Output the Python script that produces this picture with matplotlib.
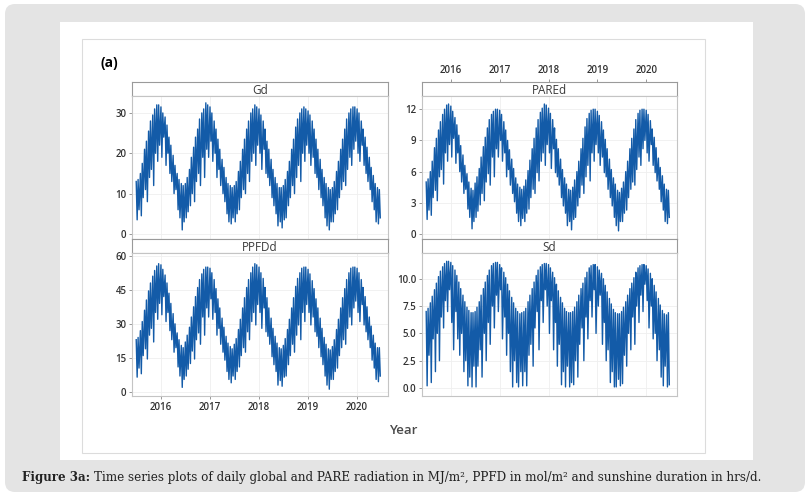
import matplotlib.pyplot as plt
import matplotlib.transforms as mtrans
import numpy as np
import pandas as pd
from matplotlib.patches import FancyBboxPatch, Rectangle

# semi-monthly readings, Jul 2015 .. Jun 2020 (upper edge, lower spike)
gd_hi = [13, 13.5, 15, 17.5, 21, 23, 25.5, 28, 29.5, 31, 32, 32, 31.5, 30, 29, 27, 24, 22, 19.5, 17, 15, 13.5, 12.5, 12,
         12.5, 14, 16, 19, 21.5, 24, 26, 28.5, 30, 31, 32.5, 32, 31.5, 30, 28, 26, 23.5, 21, 18.5, 16.5, 14, 12.5, 12, 11.5,
         12, 13, 15.5, 18, 21, 23.5, 26, 28, 30, 31, 32, 31.5, 31, 29.5, 28, 26, 23, 21, 18.5, 16, 14, 12.5, 11.5, 11.5,
         12, 13.5, 15.5, 18, 21, 23.5, 26.5, 28.5, 30, 31, 31.5, 31, 30.5, 29.5, 28, 26, 23.5, 21, 18.5, 16, 14, 12.5, 11.5, 11,
         11.5, 13, 15.5, 18, 21, 23.5, 26, 28.5, 30, 31, 31.5, 31.5, 31, 30, 28, 26, 24, 21.5, 19, 16.5, 14.5, 12.5, 11.5, 11]
gd_lo = [3.5, 6, 4.5, 9, 11, 8, 14, 16, 12, 20, 18, 22, 19, 24, 17, 20, 15, 13, 10, 11, 6, 4, 1, 3,
         4, 5.5, 7, 10, 8, 13, 15, 12, 19, 14, 21, 19, 23, 18, 20, 14, 16, 12, 10, 8, 5, 3, 2.5, 4,
         3, 5, 6, 9, 11, 10, 15, 13, 18, 20, 17, 22, 20, 16, 21, 15, 14, 12, 9, 7, 5, 2, 3, 1.5,
         3.5, 4, 7, 9, 12, 10, 14, 17, 13, 20, 18, 22, 20, 17, 19, 15, 14, 11, 9, 7, 4, 2, 1, 3,
         3, 5, 6, 9, 11, 13, 12, 16, 19, 17, 21, 23, 20, 18, 22, 17, 15, 13, 11, 8, 6, 3, 2.5, 4]

pare_hi = [5, 5.3, 6, 7, 8.3, 9.2, 10, 10.8, 11.5, 12, 12.4, 12.5, 12.3, 11.8, 11.2, 10.5, 9.5, 8.5, 7.6, 6.6, 5.8, 5, 4.4, 4.2,
           4.9, 5.5, 6.3, 7.4, 8.4, 9.3, 10.2, 11, 11.5, 11.8, 12, 12, 11.9, 11.5, 10.8, 10, 9, 8.1, 7.2, 6.3, 5.4, 4.8, 4.5, 4.3,
           4.6, 5.2, 6.1, 7.1, 8.2, 9.2, 10.2, 11, 11.7, 12.1, 12.5, 12.4, 12.1, 11.6, 11, 10.2, 9.1, 8.2, 7.2, 6.2, 5.4, 4.8, 4.3, 4.2,
           4.5, 5.2, 6, 7, 8.2, 9.2, 10.3, 11.1, 11.6, 11.9, 12, 12, 11.8, 11.4, 10.8, 10, 9.1, 8.2, 7.2, 6.2, 5.4, 4.8, 4.2, 4,
           4.4, 5, 6, 7, 8.2, 9.2, 10.1, 11, 11.6, 11.9, 12, 12, 11.9, 11.5, 10.9, 10.1, 9.3, 8.3, 7.3, 6.4, 5.6, 4.8, 4.3, 4.2]
pare_lo = [1.4, 2.3, 1.8, 3.5, 4.2, 3.2, 5.5, 6.2, 4.8, 7.8, 7, 8.6, 7.4, 9.2, 6.8, 7.8, 6, 5, 3.9, 4.3, 2.4, 1.6, 0.5, 1.2,
           1.6, 2.2, 2.8, 3.9, 3.2, 5, 5.8, 4.7, 7.4, 5.5, 8.2, 7.4, 9, 7, 7.8, 5.5, 6.2, 4.7, 3.9, 3.1, 2, 1.2, 0.8, 1.5,
           1.2, 2, 2.4, 3.5, 4.3, 3.9, 5.9, 5.1, 7, 7.8, 6.6, 8.6, 7.8, 6.3, 8.2, 5.9, 5.5, 4.7, 3.5, 2.7, 2, 0.8, 1.2, 0.4,
           1.4, 1.6, 2.7, 3.5, 4.7, 3.9, 5.5, 6.6, 5.1, 7.8, 7, 8.6, 7.8, 6.6, 7.4, 5.9, 5.5, 4.3, 3.5, 2.7, 1.6, 0.8, 0.3, 1.2,
           1.2, 2, 2.3, 3.5, 4.3, 5, 4.7, 6.2, 7.4, 6.6, 8.2, 9, 7.8, 7, 8.6, 6.6, 5.9, 5.1, 4.3, 3.1, 2.3, 1.2, 1, 1.6]

ppfd_hi = [23, 24, 27, 31, 36, 40.5, 44.5, 48, 51, 53.5, 55.5, 56.5, 56, 54, 51.5, 48, 43.5, 39, 34.5, 30, 26, 23, 20.5, 19.5,
           22, 25, 28.5, 33, 37.5, 42, 46, 49.5, 52, 54, 55, 55, 54.5, 52.5, 49.5, 45.5, 41, 37, 32.5, 28.5, 24.5, 21.5, 20, 19,
           21, 23.5, 27.5, 32, 37, 41.5, 46, 49.5, 52.5, 55, 56.5, 56, 55, 52.5, 50, 46, 41.5, 37, 32.5, 28, 24.5, 21.5, 19.5, 19,
           20.5, 23.5, 27.5, 32, 37, 41.5, 46.5, 50, 52.5, 54.5, 55, 55, 54, 52, 49, 45.5, 41, 37, 32.5, 28, 24, 21, 19, 18.5,
           20, 23, 27.5, 32, 37, 41.5, 45.5, 49.5, 52.5, 54.5, 55, 55, 54.5, 52.5, 49.5, 46, 42, 37.5, 33, 29, 25, 21.5, 19.5, 19.5]
ppfd_lo = [6.5, 10.5, 8, 16, 19, 14.5, 25, 28, 22, 35, 32, 39, 34, 42, 31, 35, 27, 23, 17.5, 19.5, 11, 7, 2, 5.5,
           7, 10, 12.5, 18, 14.5, 23, 26, 21, 33, 25, 37, 33, 41, 32, 35, 25, 28, 21, 17.5, 14, 9, 5.5, 4, 7,
           5.5, 9, 11, 16, 19.5, 17.5, 26.5, 23, 31, 35, 29.5, 38.5, 35, 28, 37, 26.5, 24.5, 21, 15.5, 12, 9, 3, 5, 2.5,
           6.5, 7, 12, 16, 21, 17.5, 25, 29.5, 23, 35, 31, 38.5, 35, 29.5, 33, 26.5, 24.5, 19.5, 15.5, 12, 7, 3, 1.2, 5.5,
           5.5, 9, 10.5, 16, 19.5, 23, 21, 28, 33, 29.5, 37, 40, 35, 31, 38.5, 29.5, 26.5, 23, 19.5, 14, 10.5, 5.5, 4.5, 7]

sd_hi = [7, 7.3, 7.8, 8.4, 9, 9.6, 10.2, 10.7, 11.1, 11.4, 11.6, 11.6, 11.5, 11.2, 10.8, 10.3, 9.7, 9.1, 8.5, 7.9, 7.4, 7.1, 6.9, 6.9,
         7, 7.4, 7.9, 8.5, 9.1, 9.7, 10.3, 10.8, 11.2, 11.4, 11.5, 11.5, 11.3, 11, 10.6, 10.1, 9.5, 8.9, 8.3, 7.8, 7.3, 7, 6.8, 6.9,
         7, 7.3, 7.9, 8.5, 9.1, 9.7, 10.3, 10.8, 11.1, 11.3, 11.4, 11.4, 11.3, 11, 10.6, 10.1, 9.5, 8.9, 8.3, 7.8, 7.3, 7, 6.9, 6.9,
         7, 7.4, 7.9, 8.5, 9.1, 9.6, 10.1, 10.6, 11, 11.2, 11.3, 11.3, 11.1, 10.8, 10.5, 10, 9.4, 8.8, 8.2, 7.7, 7.2, 6.9, 6.8, 6.8,
         7, 7.4, 7.9, 8.5, 9.1, 9.6, 10.1, 10.6, 11, 11.2, 11.3, 11.3, 11.2, 10.9, 10.5, 10, 9.4, 8.8, 8.2, 7.6, 7.1, 6.8, 6.7, 6.9]
sd_lo = [0.2, 3, 0.5, 4.5, 1.5, 5, 2.5, 6.5, 5.5, 8, 7, 9, 6, 3.5, 7, 4.5, 3, 5, 1.5, 2.5, 0.2, 1, 0.1, 2,
         0.1, 2, 3.5, 1, 5, 2.5, 6, 4, 7.5, 5.5, 8.5, 7, 9, 4.5, 6.5, 3, 5, 1.5, 0.1, 2.5, 0.5, 0.1, 1.5, 0.2,
         1.5, 0.2, 3, 4, 2, 5.5, 7, 3.5, 8, 6, 9, 7.5, 5, 8, 3.5, 6, 2, 4, 0.3, 1.5, 0.1, 2, 0.1, 0.5,
         0.3, 2.5, 1, 4, 5.5, 2.5, 6.5, 4.5, 8, 6.5, 9, 5, 7.5, 8.5, 4, 6, 2.5, 3.5, 0.5, 1.5, 0.1, 0.1, 0.8, 0.2,
         0.4, 3, 2, 5, 3.5, 6.5, 4, 7.5, 6, 8.5, 7, 9.5, 8, 5.5, 7.5, 4.5, 5, 2.5, 3.5, 1, 0.2, 2, 0.1, 0.3]

years = [2016, 2017, 2018, 2019, 2020]
panels = [("Gd", gd_hi, gd_lo, [0, 10, 20, 30], "{:.0f}"),
          ("PAREd", pare_hi, pare_lo, [0, 3, 6, 9, 12], "{:.0f}"),
          ("PPFDd", ppfd_hi, ppfd_lo, [0, 15, 30, 45, 60], "{:.0f}"),
          ("Sd", sd_hi, sd_lo, [0, 2.5, 5, 7.5, 10], "{:.1f}")]


def frac_year(d):
    n = np.where(d.is_leap_year, 366.0, 365.0)
    return d.year + (d.dayofyear - 1) / n


dates = pd.date_range("2015-07-01", periods=120, freq="SMS")
t_hi = frac_year(dates)
t_lo = frac_year(dates + pd.Timedelta(days=7))

W, H = 811, 503
fig = plt.figure(figsize=(W / 100, H / 100), dpi=100)
plt.rcParams['font.family'] = ['Open Sans', 'DejaVu Sans']
px = mtrans.IdentityTransform()

# page background (kept below the axes)
fig.patches.append(FancyBboxPatch((5, 11), 800, 488, boxstyle="round,pad=0,rounding_size=10",
                                  transform=px, facecolor='#e4e4e4', edgecolor='none', zorder=-3))
fig.patches.append(Rectangle((60, 43), 693, 438, transform=px, facecolor='white', edgecolor='none', zorder=-2))
fig.patches.append(Rectangle((82, 50), 623, 414, transform=px, facecolor='white',
                             edgecolor='#dcdcdc', lw=0.8, zorder=-1))


def box(x0, y0, x1, y1):
    return [x0 / W, 1 - y1 / H, (x1 - x0) / W, (y1 - y0) / H]


cells = {"Gd": (132, 388, 82), "PAREd": (422, 677, 82), "PPFDd": (132, 388, 239), "Sd": (422, 677, 239)}
xlim = (2015.41, 2020.63)
ylims = {"Gd": (-1.25, 34.2), "PAREd": (-0.48, 13.27), "PPFDd": (-1.8, 61.2), "Sd": (-0.73, 12.36)}
line_col = '#135ba8'
tick_kw = dict(length=2.5, width=0.6, color='#888888', labelsize=7, labelcolor='#333333')

for name, hi, lo, yt, fmt in panels:
    x0, x1, ys = cells[name]
    strip = fig.add_axes(box(x0, ys, x1, ys + 14))
    strip.set_xlim(xlim)
    strip.set_yticks([])
    strip.text(0.5, 0.42, name, ha='center', va='center', fontsize=8.5, color='#3a3a3a',
               transform=strip.transAxes)
    for s in strip.spines.values():
        s.set_color('#9a9a9a')
        s.set_linewidth(0.8)
    if name == "PAREd":
        strip.xaxis.tick_top()
        strip.set_xticks(years)
        strip.set_xticklabels([str(y) for y in years], fontweight='semibold')
        strip.tick_params(axis='x', pad=1.5, **tick_kw)
    else:
        strip.set_xticks([])

    ax = fig.add_axes(box(x0, ys + 14, x1, ys + 157))
    x = np.empty(240)
    y = np.empty(240)
    x[0::2] = t_hi
    x[1::2] = t_lo
    y[0::2] = hi
    y[1::2] = lo
    ax.plot(x, y, color=line_col, lw=1.0)
    ax.set_xlim(xlim)
    ax.set_ylim(ylims[name])
    ax.set_xticks(years)
    ax.set_yticks(yt)
    ax.set_yticklabels([fmt.format(v) for v in yt], fontweight='semibold')
    ax.grid(True, color='#efefef', lw=0.6)
    ax.set_axisbelow(True)
    for s in ax.spines.values():
        s.set_color('#c4c4c4')
        s.set_linewidth(0.8)
    ax.tick_params(axis='y', pad=1.5, **tick_kw)
    if name == "PPFDd":
        ax.set_xticklabels([str(v) for v in years], fontweight='semibold')
        ax.tick_params(axis='x', pad=2, **tick_kw)
    else:
        ax.tick_params(axis='x', length=0, labelbottom=False)

fig.text(403 / W, 1 - 431 / H, "Year", ha='center', va='center', fontsize=9.5,
         color='#4a4a4a', fontweight='semibold')
fig.text(109 / W, 1 - 63 / H, "(a)", ha='center', va='center', fontsize=10,
         color='black', fontweight='bold')

# caption: bold lead + regular text
lead = "Figure 3a: "
rest = ("Time series plots of daily global and PARE radiation in MJ/m², "
        "PPFD in mol/m² and sunshine duration in hrs/d.")
cap_size = 8.55
t1 = fig.text(22 / W, 1 - 477 / H, lead, ha='left', va='center', fontsize=cap_size,
              family='DejaVu Serif', fontweight='bold', color='#222222')
fig.canvas.draw()
r = fig.canvas.get_renderer()
w1 = t1.get_window_extent(r).width
t2 = fig.text((22 + w1) / W, 1 - 477 / H, rest, ha='left', va='center', fontsize=cap_size,
              family='DejaVu Serif', color='#222222')

fig.savefig("out.png", dpi=100)
